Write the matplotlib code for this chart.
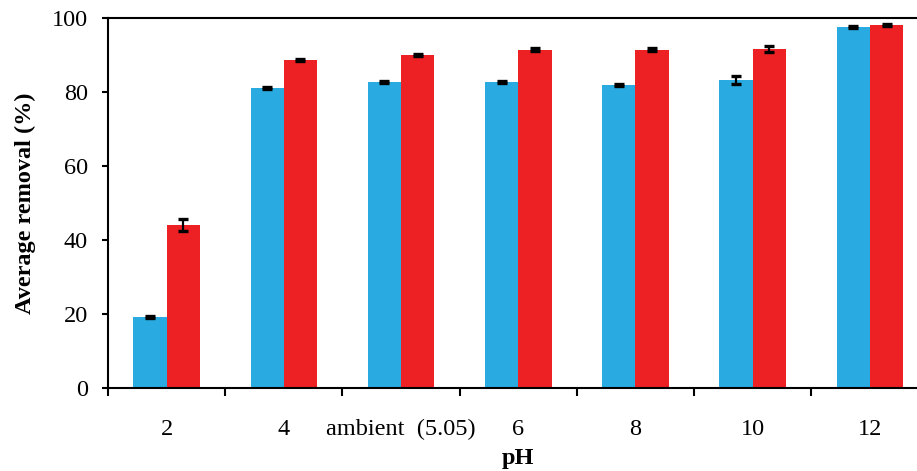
import numpy as np
import matplotlib
matplotlib.use("Agg")
import matplotlib.pyplot as plt

# removal at each pH, two series (blue / red)
ph_labels = ["2", "4", "ambient  (5.05)", "6", "8", "10", "12"]
removal_blue = [19.2, 81.1, 82.7, 82.7, 81.9, 83.2, 97.6]
err_blue = [0.3, 0.3, 0.2, 0.2, 0.3, 1.0, 0.2]
removal_red = [44.0, 88.6, 90.0, 91.4, 91.4, 91.6, 98.1]
err_red = [1.7, 0.3, 0.3, 0.4, 0.4, 0.9, 0.3]

plt.rcParams["font.family"] = ["Liberation Serif", "DejaVu Serif"]

fig = plt.figure(figsize=(9.17, 4.71), dpi=100)
ax = fig.add_axes([0.1178, 0.1762, 0.8947, 0.7856])

x = np.arange(len(ph_labels))
w = 0.284
ekw = dict(ecolor="black", elinewidth=1.6, capsize=3.8, capthick=2.4)
ax.bar(x - w / 2, removal_blue, w, yerr=err_blue, color="#29ABE2", error_kw=ekw, zorder=2)
ax.bar(x + w / 2, removal_red, w, yerr=err_red, color="#ED2024", error_kw=ekw, zorder=2)

ax.set_xlim(-0.5, len(ph_labels) - 0.5)
ax.set_ylim(0, 100)
ax.set_yticks([0, 20, 40, 60, 80, 100])

# ticks sit between groups, labels at group centres
ax.set_xticks(np.arange(len(ph_labels) + 1) - 0.5)
ax.set_xticklabels([])
ax.set_xticks(x, minor=True)
ax.set_xticklabels(ph_labels, minor=True)
ax.tick_params(axis="x", which="major", direction="out", length=5.5, width=1.5)
ax.tick_params(axis="x", which="minor", length=0, pad=22, labelsize=17.5)
ax.tick_params(axis="y", direction="out", length=4.5, width=1.5, pad=10, labelsize=17.5)

for side in ["left", "bottom", "top"]:
    ax.spines[side].set_linewidth(1.5)
ax.spines["right"].set_visible(False)

ax.set_ylabel("Average removal (%)", fontsize=17.5, fontweight="bold", labelpad=11)
ax.set_xlabel("pH", fontsize=17.5, fontweight="bold", labelpad=6)

fig.savefig("out.png", dpi=100)
